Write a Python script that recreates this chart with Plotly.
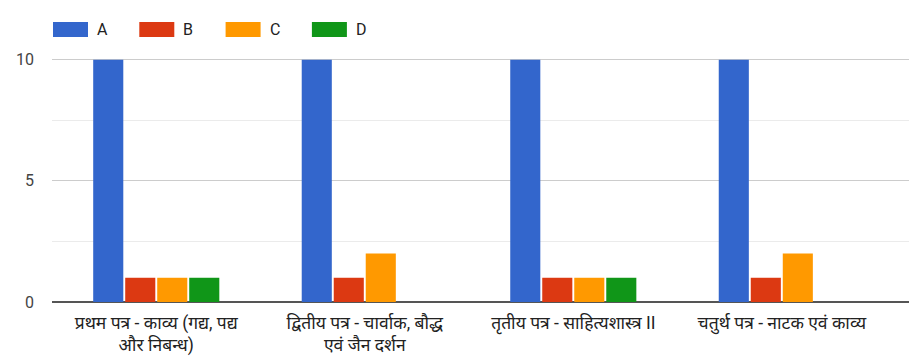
import plotly.graph_objects as go

categories = [
    "प्रथम पत्र - काव्य (गद्य, पद्य<br>और निबन्ध)",
    "द्वितीय पत्र - चार्वाक, बौद्ध<br>एवं जैन दर्शन",
    "तृतीय पत्र - साहित्यशास्त्र II",
    "चतुर्थ पत्र - नाटक एवं काव्य",
]
series_names = ["A", "B", "C", "D"]
values_A = [10, 10, 10, 10]
values_B = [1, 1, 1, 1]
values_C = [1, 2, 1, 2]
values_D = [1, 0, 1, 0]
y_tick_values = [0, 5, 10]
y_tick_labels = ["0", "5", "10"]

colors = ["#3366cc", "#dc3912", "#ff9900", "#109618"]
series_values = [values_A, values_B, values_C, values_D]

W, H = 909, 356
ML, MR, MT, MB = 52, 0, 56, 54
plot_w = W - ML - MR
plot_h = H - MT - MB

FONT = "Roboto, 'Noto Sans', 'Noto Sans Devanagari', sans-serif"

fig = go.Figure()
for name, vals, col in zip(series_names, series_values, colors):
    fig.add_trace(go.Bar(
        x=list(range(len(categories))), y=vals, name=name,
        marker=dict(color=col, line=dict(width=0)),
        showlegend=False,
    ))

# manual legend (wide colour swatches like the original)
def px_x(p):
    return (p - ML) / plot_w

def px_y(p):
    return (H - MB - p) / plot_h

shapes = []
annotations = []
for i, (name, col) in enumerate(zip(series_names, colors)):
    x0 = 53 + i * 86.3
    shapes.append(dict(type="rect", xref="paper", yref="paper",
                       x0=px_x(x0), x1=px_x(x0 + 35), y0=px_y(37), y1=px_y(22),
                       fillcolor=col, line=dict(width=0), layer="above"))
    annotations.append(dict(xref="paper", yref="paper", x=px_x(x0 + 42), y=px_y(29.5),
                            text=name, showarrow=False, xanchor="left", yanchor="middle",
                            font=dict(family=FONT, size=16, color="#222222")))

fig.update_layout(
    width=W, height=H,
    margin=dict(l=ML, r=MR, t=MT, b=MB, pad=0, autoexpand=False),
    paper_bgcolor="white", plot_bgcolor="white",
    barmode="group", bargap=0.386, bargroupgap=0.06,
    font=dict(family=FONT, size=14, color="#222222"),
    shapes=shapes, annotations=annotations,
    xaxis=dict(
        tickmode="array", tickvals=list(range(len(categories))), ticktext=categories,
        range=[-0.5, 3.61], showgrid=False, zeroline=False, showline=False,
        ticks="", tickfont=dict(family=FONT, size=17.5, color="#222222"),
        ticklabelstandoff=8, automargin=False,
    ),
    yaxis=dict(
        range=[0, 10.15], tickmode="array", tickvals=y_tick_values, ticktext=y_tick_labels,
        showgrid=True, gridcolor="#cccccc", gridwidth=1,
        minor=dict(dtick=2.5, tick0=0, showgrid=True, gridcolor="#ebebeb", gridwidth=1),
        zeroline=True, zerolinecolor="#555555", zerolinewidth=2,
        showline=False, ticks="", ticklabelstandoff=17, automargin=False,
        tickfont=dict(family=FONT, size=16, color="#444444"),
    ),
)

fig.write_html(
    "out.html",
    config={"displayModeBar": False},
    post_script="document.body.style.margin='0';document.body.style.overflow='hidden';",
)
